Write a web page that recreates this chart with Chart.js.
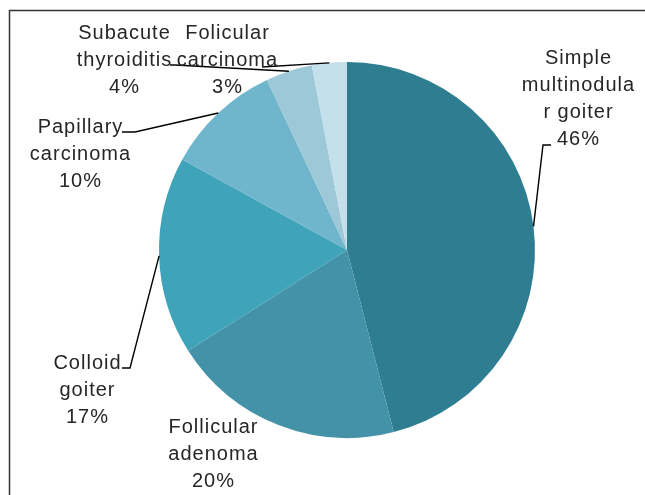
<!DOCTYPE html>
<html>
<head>
<meta charset="utf-8">
<script src="https://cdn.jsdelivr.net/npm/chart.js@4.4.1/dist/chart.umd.min.js"></script>
<style>
  html, body { margin: 0; padding: 0; background: #ffffff; }
  #wrap { width: 645px; height: 495px; position: relative; }
</style>
</head>
<body>
<div id="wrap"><canvas id="pieChart" width="645" height="495"></canvas></div>
<script>
// Thyroid lesion distribution (%)
const categories = [
  ["Simple", "multinodula", "r goiter"],
  ["Follicular", "adenoma"],
  ["Colloid", "goiter"],
  ["Papillary", "carcinoma"],
  ["Subacute", "thyroiditis"],
  ["Folicular", "carcinoma"]
];
const values = [46, 20, 17, 10, 4, 3];
const sliceColors = ["#2E7D91", "#4392A8", "#3FA3BA", "#6FB6CC", "#9CC8D8", "#C4E0EA"];

// label placement: text centre x, first line y, leader elbow points (null = no leader)
const labelLayout = [
  { x: 578, y: 58, leader: [[543, 145], [551, 145]] },
  { x: 213, y: 427, leader: null },
  { x: 87, y: 363, leader: [[130, 368], [122, 368]] },
  { x: 80, y: 127, leader: [[135, 132], [122, 132]] },
  { x: 124, y: 33, leader: [[175, 65], [170, 65]] },
  { x: 227, y: 33, leader: [[262, 67]] }
];

const framePlugin = {
  id: "frame",
  beforeDraw(chart) {
    const ctx = chart.ctx;
    ctx.save();
    ctx.strokeStyle = "#333333";
    ctx.lineWidth = 1.5;
    ctx.beginPath();
    ctx.moveTo(9.5, 495);
    ctx.lineTo(9.5, 10.5);
    ctx.lineTo(645, 10.5);
    ctx.stroke();
    ctx.restore();
  }
};

const labelPlugin = {
  id: "sliceLabels",
  afterDraw(chart) {
    const ctx = chart.ctx;
    const arcs = chart.getDatasetMeta(0).data;
    ctx.save();
    arcs.forEach((arc, i) => {
      const lay = labelLayout[i];
      // leader line from slice edge
      if (lay.leader) {
        const mid = (arc.startAngle + arc.endAngle) / 2;
        const sx = arc.x + Math.cos(mid) * arc.outerRadius;
        const sy = arc.y + Math.sin(mid) * arc.outerRadius;
        ctx.strokeStyle = "#000000";
        ctx.lineWidth = 1.4;
        ctx.beginPath();
        ctx.moveTo(sx, sy);
        lay.leader.forEach(p => ctx.lineTo(p[0], p[1]));
        ctx.stroke();
      }
      // text
      ctx.fillStyle = "#262626";
      ctx.font = "20px 'Liberation Sans', Arial, sans-serif";
      ctx.letterSpacing = "1px";
      ctx.textAlign = "center";
      ctx.textBaseline = "middle";
      const lines = categories[i].concat([values[i] + "%"]);
      lines.forEach((t, k) => {
        ctx.fillText(t, lay.x + 0.5, lay.y + k * 27);
      });
    });
    ctx.restore();
  }
};

new Chart(document.getElementById("pieChart").getContext("2d"), {
  type: "pie",
  data: {
    labels: categories.map(c => c.join(" ")),
    datasets: [{
      data: values,
      backgroundColor: sliceColors,
      borderWidth: 0
    }]
  },
  options: {
    responsive: false,
    animation: false,
    layout: { padding: { top: 62, bottom: 57, left: 159, right: 110 } },
    plugins: {
      legend: { display: false },
      tooltip: { enabled: false }
    }
  },
  plugins: [framePlugin, labelPlugin]
});
</script>
</body>
</html>
